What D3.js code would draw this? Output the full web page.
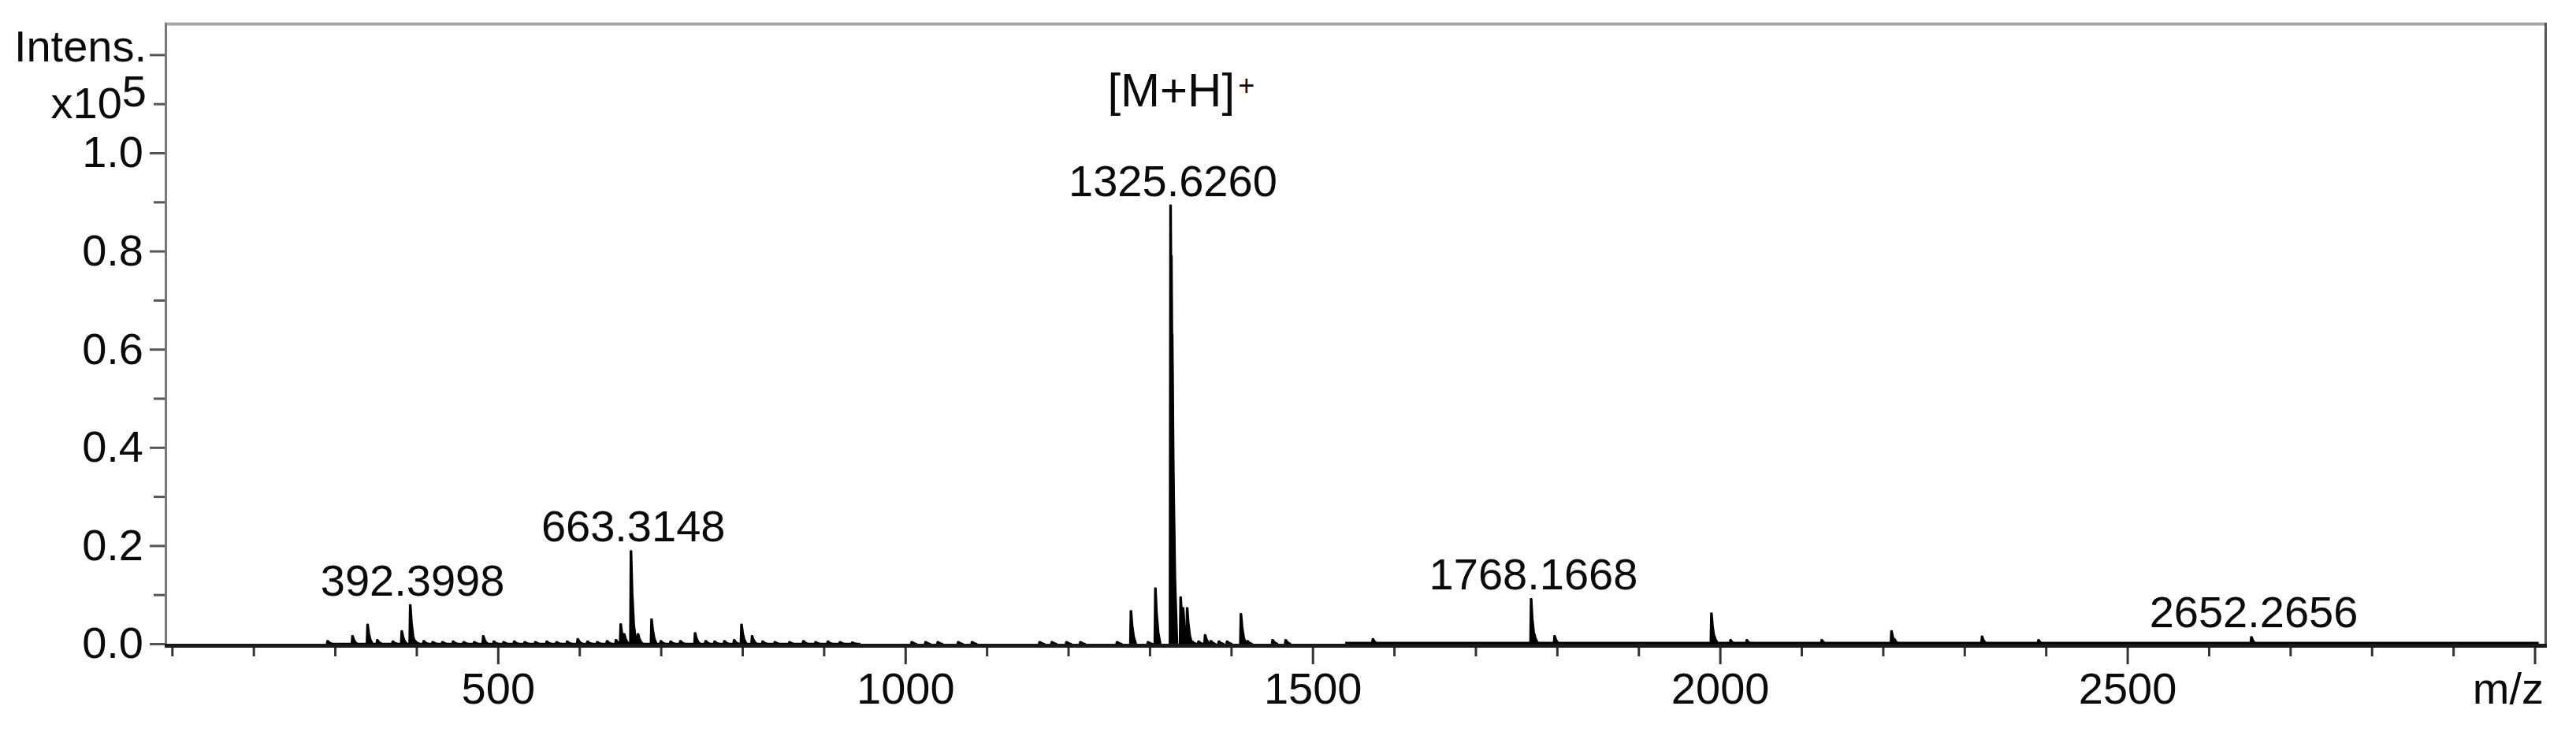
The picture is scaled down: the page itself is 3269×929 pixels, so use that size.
<!DOCTYPE html>
<html>
<head>
<meta charset="utf-8">
<script src="https://cdn.jsdelivr.net/npm/d3@7/dist/d3.min.js"></script>
<style>
body { margin: 0; background: #fff; }
text { font-family: "Liberation Sans", Arial, sans-serif; fill: #0a0a0a; }
</style>
</head>
<body>
<div id="chart"></div>
<script>
// MASS SPECTRUM
// peaks: m/z and intensity (x10^5)
var peakMz = [291, 321.5, 340, 352, 371, 382, 392.3998, 398, 409,
	420, 432, 445, 458, 471, 482, 495, 507, 520, 533, 546, 560, 572, 585, 598, 610, 622, 634, 645,
	650.7, 655, 663.3148, 667, 672, 688.6, 700, 712, 724, 742, 755, 766, 778, 790, 799, 812,
	825, 840, 858, 875, 890, 905, 920, 935,
	1008, 1025, 1040, 1065, 1082, 1165, 1180, 1198, 1215,
	1260, 1277, 1298, 1307, 1325.626, 1326.6, 1327.6, 1338, 1341, 1346, 1352, 1360, 1368, 1375, 1385, 1395, 1412, 1420,
	1451, 1467, 1574, 1768.1668, 1772, 1797,
	1989.5, 1993, 2013, 2033, 2125, 2210.5, 2214, 2321.7, 2391, 2652.2656];
var peakInt = [0.006, 0.016, 0.039, 0.008, 0.005, 0.026, 0.079, 0.007, 0.006,
	0.004, 0.004, 0.005, 0.004, 0.004, 0.016, 0.005, 0.004, 0.005, 0.004, 0.004, 0.005, 0.004, 0.005, 0.010, 0.005, 0.004, 0.006, 0.008,
	0.040, 0.020, 0.189, 0.030, 0.020, 0.050, 0.006, 0.005, 0.006, 0.022, 0.006, 0.005, 0.006, 0.008, 0.039, 0.016,
	0.005, 0.004, 0.004, 0.006, 0.004, 0.005, 0.004, 0.003,
	0.004, 0.004, 0.004, 0.004, 0.004, 0.004, 0.004, 0.004, 0.004,
	0.004, 0.067, 0.004, 0.113, 0.893, 0.790, 0.630, 0.095, 0.073, 0.073, 0.005, 0.005, 0.018, 0.006, 0.005, 0.005, 0.061, 0.006,
	0.008, 0.008, 0.010, 0.0915, 0.020, 0.016,
	0.062, 0.016, 0.008, 0.008, 0.008, 0.026, 0.010, 0.015, 0.008, 0.014];

// baseline noise bands (m/z from, to, intensity)
var noiseFrom = [290, 1540];
var noiseTo = [945, 3005];
var noiseInt = [0.002, 0.004];

// annotated peaks
var labelMz = [392.3998, 663.3148, 1325.6260, 1768.1668, 2652.2656];
var labelInt = [0.079, 0.189, 0.893, 0.0915, 0.014];
var labelText = ["392.3998", "663.3148", "1325.6260", "1768.1668", "2652.2656"];

// ticks
var yMajor = [0, 0.2, 0.4, 0.6, 0.8, 1.0, 1.2];
var yMajorLabels = ["0.0", "0.2", "0.4", "0.6", "0.8", "1.0", ""];
var yMinor = [0.1, 0.3, 0.5, 0.7, 0.9, 1.1];
var xMajor = [500, 1000, 1500, 2000, 2500, 3000];
var xMajorLabels = ["500", "1000", "1500", "2000", "2500", ""];
var xMinor = [100, 200, 300, 400, 600, 700, 800, 900, 1100, 1200, 1300, 1400,
	1600, 1700, 1800, 1900, 2100, 2200, 2300, 2400, 2600, 2700, 2800, 2900];

var width = 3269, height = 929;

var x = d3.scaleLinear()
	.domain([92, 3014])
	.range([210, 3231]);

var y = d3.scaleLinear()
	.domain([0, 1])
	.range([817, 194]);

var svg = d3.select("#chart").append("svg")
	.attr("width", width)
	.attr("height", height);

// profile shape of one peak, offsets in m/z and fraction of height
var shape = [[-1.2, 0], [-0.5, 1], [0.6, 1], [2, 0.55], [4, 0.2], [6.5, 0]];

var peakLine = d3.line()
	.x(function(d) { return x(d[0]); })
	.y(function(d) { return y(d[1]); });

// noise bands
svg.append("g").selectAll("rect")
	.data(noiseFrom)
	.enter().append("rect")
		.attr("x", function(d) { return x(d); })
		.attr("width", function(d, i) { return x(noiseTo[i]) - x(d); })
		.attr("y", function(d, i) { return y(noiseInt[i]); })
		.attr("height", function(d, i) { return y(0) - y(noiseInt[i]); })
		.attr("fill", "#000");

// peaks
svg.append("g").selectAll("path")
	.data(peakMz)
	.enter().append("path")
		.attr("d", function(m, i) {
			return peakLine(shape.map(function(s) { return [m + s[0], peakInt[i] * s[1]]; }));
		})
		.attr("fill", "#000")
		.attr("stroke", "#000")
		.attr("stroke-width", 2.2)
		.attr("stroke-linejoin", "round");

// frame
svg.append("line").attr("x1", 209).attr("x2", 3232).attr("y1", 30.5).attr("y2", 30.5)
	.attr("stroke", "#a6a6a6").attr("stroke-width", 4);
svg.append("line").attr("x1", 3230.5).attr("x2", 3230.5).attr("y1", 29).attr("y2", 821)
	.attr("stroke", "#555").attr("stroke-width", 3);
svg.append("line").attr("x1", 210.5).attr("x2", 210.5).attr("y1", 29).attr("y2", 822)
	.attr("stroke", "#777").attr("stroke-width", 3);

// y axis
svg.append("g")
	.attr("transform", "translate(209,0)")
	.call(d3.axisLeft(y).tickValues(yMajor).tickSize(19).tickPadding(8)
		.tickFormat(function(d, i) { return yMajorLabels[i]; }));
svg.append("g")
	.attr("transform", "translate(209,0)")
	.call(d3.axisLeft(y).tickValues(yMinor).tickSize(14).tickFormat(""));
svg.selectAll(".domain").remove();

// x axis
svg.append("g")
	.attr("class", "xaxis")
	.attr("transform", "translate(0,821)")
	.call(d3.axisBottom(x).tickValues(xMajor).tickSize(22).tickPadding(10)
		.tickFormat(function(d, i) { return xMajorLabels[i]; }));
svg.append("g")
	.attr("class", "xaxis")
	.attr("transform", "translate(0,821)")
	.call(d3.axisBottom(x).tickValues(xMinor).tickSize(12).tickFormat(""));
svg.selectAll(".domain").remove();

svg.selectAll(".tick line").attr("stroke", "#555").attr("stroke-width", 3);
svg.selectAll(".xaxis .tick line").attr("stroke", "#333");
svg.selectAll(".tick text")
	.attr("font-size", 56)
	.attr("font-family", "'Liberation Sans', Arial, sans-serif")
	.attr("fill", "#0a0a0a");

// bottom axis line
svg.append("line").attr("x1", 209).attr("x2", 3232).attr("y1", 819.5).attr("y2", 819.5)
	.attr("stroke", "#1a1a1a").attr("stroke-width", 5);

// axis titles
svg.append("text")
	.attr("x", 186).attr("y", 78)
	.attr("text-anchor", "end")
	.attr("font-size", 56)
	.text("Intens.");

var expo = svg.append("text")
	.attr("x", 186).attr("y", 150)
	.attr("text-anchor", "end")
	.attr("font-size", 56);
expo.append("tspan").text("x10");
expo.append("tspan").attr("dy", -15).text("5");

svg.append("text")
	.attr("x", 3228).attr("y", 893)
	.attr("text-anchor", "end")
	.attr("font-size", 56)
	.text("m/z");

// peak labels
svg.append("g").selectAll("text")
	.data(labelText)
	.enter().append("text")
		.attr("x", function(d, i) { return x(labelMz[i]) + 3; })
		.attr("y", function(d, i) { return y(labelInt[i]) - 12; })
		.attr("text-anchor", "middle")
		.attr("font-size", 56)
		.text(function(d) { return d; });

// ion annotation
var ion = svg.append("text")
	.attr("x", x(1325.626) - 80).attr("y", 135)
	.attr("font-size", 60);
ion.append("tspan").text("[M+H]");
ion.append("tspan").attr("font-size", 36).attr("dy", -14).attr("dx", 4).text("+");
</script>
</body>
</html>
